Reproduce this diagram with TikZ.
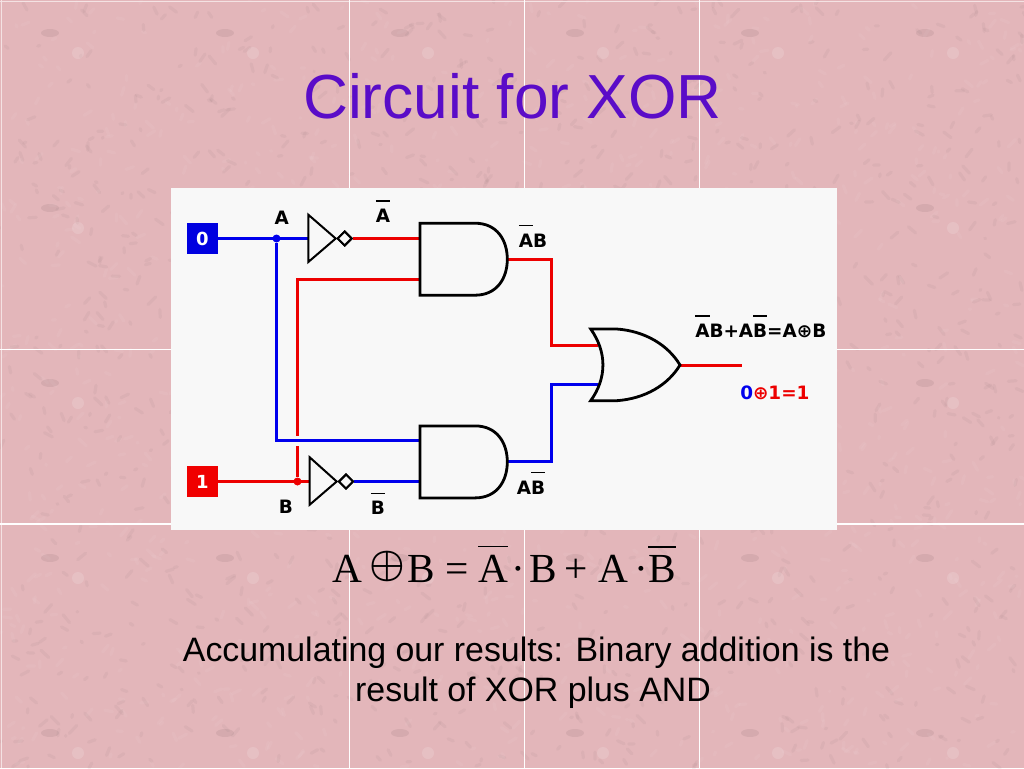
\documentclass[tikz,border=0pt]{standalone}
\usepackage{fontspec}
\setmainfont{Liberation Sans}
\newfontfamily\pixfont{DejaVu Sans}
\newfontfamily\eqfont{Liberation Serif}
\usetikzlibrary{shapes.geometric}
\definecolor{paper}{HTML}{E3B6BA}
\definecolor{panel}{HTML}{F8F8F8}
\definecolor{titleink}{HTML}{5A0CC8}
\newcommand{\nbar}[2][1.3]{\sbox0{#2}\rlap{\raisebox{#1\ht0}{\rule{\wd0}{1pt}}}#2}
\newcommand{\eqxor}{\raisebox{4.3pt}{\scalebox{3}{\fontsize{10}{12}\selectfont\boldmath$\oplus$}}}
\newcommand{\andbody}[1]{%
  \draw[gate] (420,#1-36) -- (475,#1-36) .. controls (497,#1-36) and (507.3,#1-19) .. (507.3,#1)
    .. controls (507.3,#1+19) and (497,#1+36) .. (475,#1+36) -- (420,#1+36) -- cycle;}

\begin{document}
\begin{tikzpicture}[x=0.75pt, y=-0.75pt]
\tikzstyle{gate}=[draw=black, line width=2.1pt, line join=miter, fill=panel]
\tikzstyle{inverter}=[gate, line width=1.5pt]
\tikzstyle{sheet}=[line width=0.75pt, white!60!paper]
\tikzstyle{seam}=[line width=0.9pt, white]
\tikzstyle{mottle}=[line width=2.4pt, line cap=round, opacity=0.07]
\tikzstyle{wire}=[line width=2.25pt]
\tikzstyle{redwire}=[wire, draw=red!93!black]
\tikzstyle{bluewire}=[wire, draw=blue!93!black]
\tikzstyle{inbox}=[rectangle, minimum size=23pt, inner sep=0pt, text=white, font=\pixfont\bfseries\fontsize{13.5}{15}\selectfont]
\tikzstyle{sig}=[anchor=base, inner sep=0pt, font=\pixfont\bfseries\fontsize{13.8}{16}\selectfont]
\tikzstyle{bubble}=[diamond, draw=black, line width=1.5pt, fill=panel, minimum size=11pt, inner sep=0pt]
\tikzstyle{dotnode}=[circle, minimum size=6pt, inner sep=0pt]
\tikzstyle{body}=[anchor=base, inner sep=0pt, font=\fontsize{25.4}{30}\selectfont]

  % paper
  \fill[paper] (0,0) rectangle (1024,768);
  \useasboundingbox (0,0) rectangle (1024,768);
  \pgfmathsetseed{41}
  \foreach \i in {1,...,1100} {
    \draw[mottle, draw=black!45!paper] ({rnd*1024},{rnd*768}) -- ++({(rnd-0.5)*16},{(rnd-0.5)*16});
    \draw[mottle, draw=white!70!paper] ({rnd*1024},{rnd*768}) -- ++({(rnd-0.5)*16},{(rnd-0.5)*16});
  }
  \foreach \tx in {0,175,350,525,700,875} {
    \foreach \ty in {0,175,350,525,700} {
      \fill[white, opacity=0.14] (\tx+78,\ty+53) circle (6);
      \fill[black!60!paper, opacity=0.10] (\tx+50,\ty+33) ellipse (9 and 4);
    }
  }
  \draw[sheet] (1,0) -- (1,768);
  \draw[sheet] (0,1) -- (1024,1);
  \foreach \sx in {349.5,524.5,699.5} {
    \draw[seam] (\sx,0) -- (\sx,768);
  }
  \foreach \sy in {349.3,524} {
    \draw[seam] (0,\sy) -- (1024,\sy);
  }

  % text
  \node[anchor=base, inner sep=0pt, text=titleink, font=\fontsize{46.7}{50}\selectfont] (title) at (512.5,118) {Circuit for XOR};
  \node[anchor=base west, inner sep=0pt, font=\eqfont\fontsize{31}{36}\selectfont] (eqn) at (332,582.7)
    {A\hspace{5.6pt}\eqxor\hspace{1.6pt}B\hspace{8pt}=\hspace{7pt}\nbar{A}\hspace{2.5pt}·\hspace{3pt}B\hspace{6pt}+\hspace{7.5pt}A\hspace{4.5pt}·\hspace{0.3pt}\nbar{B}};
  \node[body] (line1) at (536.5,661) {Accumulating our results: Binary addition is the};
  \node[body] (line2) at (533,701.7) {result of XOR plus AND};

  % circuit
  \fill[panel] (171,188) rectangle (837,530);

  \node[inbox, fill=blue!88!black] (boxA) at (202.5,238.5) {0};
  \node[inbox, fill=red!94!black]  (boxB) at (202.5,481.5) {1};

  \node[dotnode, fill=blue!93!black] (dotA) at (276.5,238.5) {};
  \node[dotnode, fill=red!93!black]  (dotB) at (297.5,481.5) {};

  \node[bubble] (notA) at (344.7,238.5) {};
  \node[bubble] (notB) at (346,481.5) {};

  \coordinate (invAin)  at (308.3,238.5);
  \coordinate (invBin)  at (309.7,481.5);
  \coordinate (andAa)   at (420,238.5);
  \coordinate (andAb)   at (420,279.5);
  \coordinate (andAout) at (507.3,259.5);
  \coordinate (andBa)   at (420,440.5);
  \coordinate (andBb)   at (420,481.5);
  \coordinate (andBout) at (507.3,461.5);
  \coordinate (orA)     at (598,345.5);
  \coordinate (orB)     at (598,384.5);
  \coordinate (orOut)   at (680,365.5);
  \coordinate (result)  at (741.7,365.5);
  \coordinate (gapTop)  at (297.5,436.3);
  \coordinate (gapLow)  at (297.5,446.3);

  \draw[bluewire] (boxA) -- (invAin);
  \draw[bluewire] (dotA) |- (andBa);
  \draw[redwire]  (notA) -- (andAa);
  \draw[redwire]  (andAb) -| (gapTop);
  \draw[redwire]  (gapLow) -- (dotB);
  \draw[redwire]  (boxB) -- (invBin);
  \draw[bluewire] (notB) -- (andBb);
  \draw[redwire]  (andAout) -| (551.5,345.5) -- (orA);
  \draw[bluewire] (andBout) -| (551.5,384.5) -- (orB);
  \draw[redwire]  (orOut) -- (result);

  \draw[inverter] (308.3,214.7) -- (308.3,262) -- (335.7,238.5) -- cycle;
  \draw[inverter] (309.7,457.3) -- (309.7,504.7) -- (336.7,481.5) -- cycle;
  \node[bubble] (notAtop) at (notA) {};
  \node[bubble] (notBtop) at (notB) {};
  \andbody{259.2}
  \andbody{461.9}
  \draw[gate] (590.7,329) -- (616.7,329) .. controls (645,331) and (668,345) .. (680,365)
    .. controls (668,385) and (645,398.7) .. (616.7,400.7) -- (590.7,400.7)
    .. controls (607,378) and (607,352) .. (590.7,329) -- cycle;

  \node[sig] (sigA)    at (281.7,224) {A};
  \node[sig] (sigB)    at (286,513) {B};
  \node[sig] (sigNA)   at (383,222.3) {\nbar[1.55]{A}};
  \node[sig] (sigNB)   at (378,514.7) {\nbar[1.55]{B}};
  \node[sig] (sigNAB)  at (533,247) {\nbar[1.55]{A}B};
  \node[sig] (sigANB)  at (531,494) {A\nbar[1.55]{B}};
  \node[sig, anchor=base west] (sigSum) at (695,337.3) {\nbar[1.55]{A}B+A\nbar[1.55]{B}=A⊕B};
  \node[sig, anchor=base west, text=red!93!black] (sigVal) at (740,399.3) {\textcolor{blue!93!black}{0}⊕1=1};

\end{tikzpicture}
\end{document}
